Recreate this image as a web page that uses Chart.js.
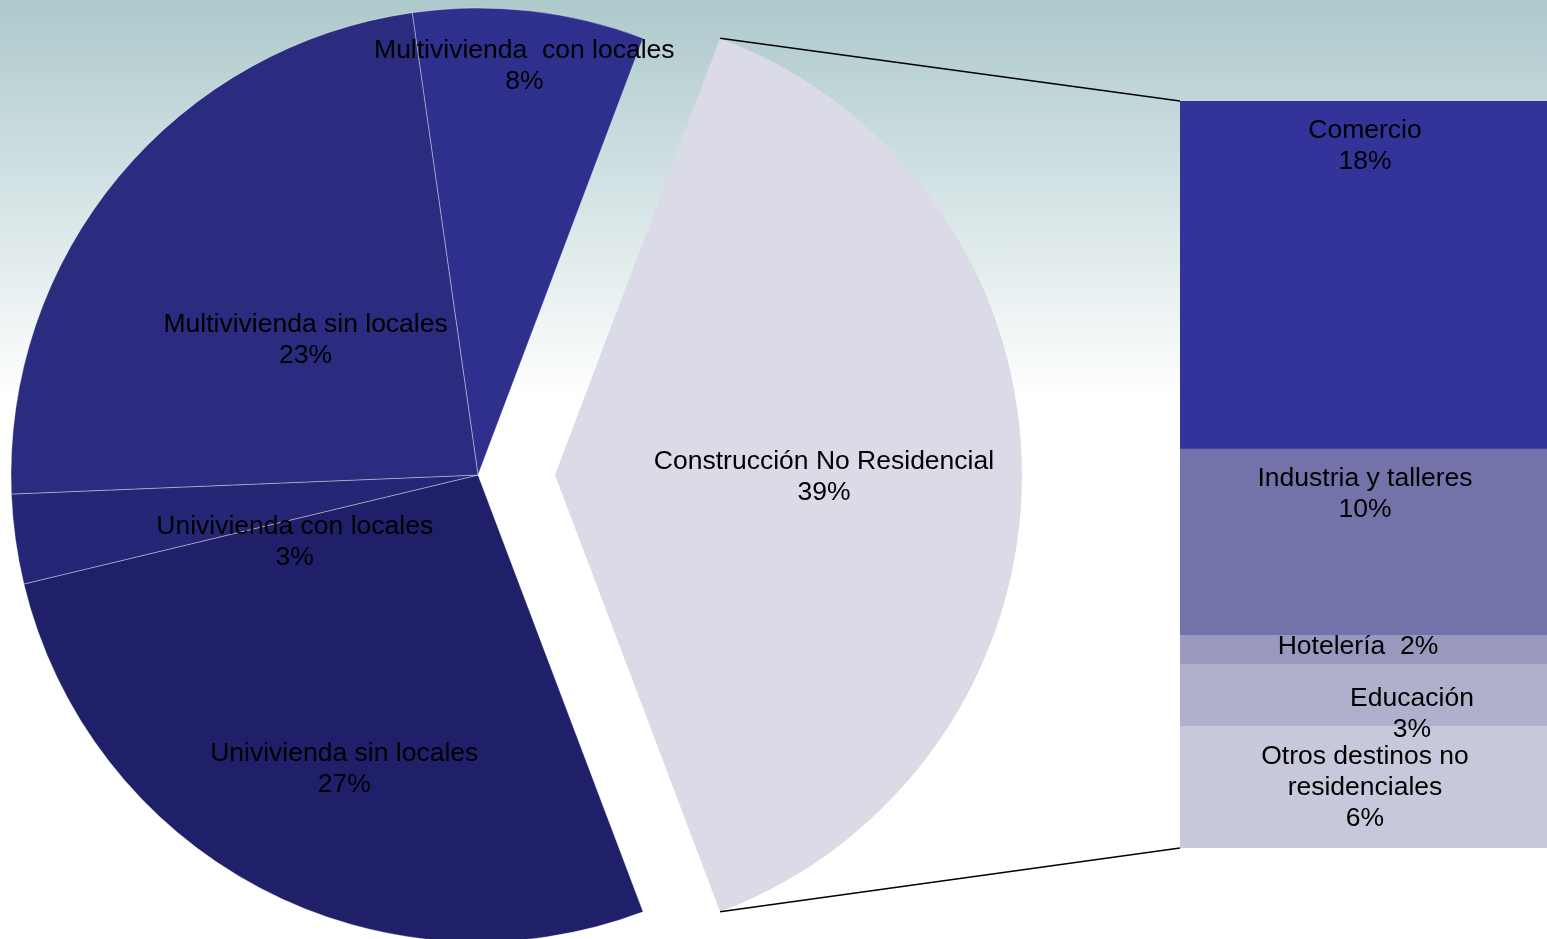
<!DOCTYPE html>
<html>
<head>
<meta charset="utf-8">
<script src="https://cdn.jsdelivr.net/npm/chart.js@4"></script>
<style>
  html, body { margin: 0; padding: 0; }
  body {
    width: 1547px; height: 939px; overflow: hidden; position: relative;
    background: #fff linear-gradient(to bottom, #adc9cc 0px, #ffffff 400px) no-repeat;
  }
  canvas { position: absolute; top: 0; }
</style>
</head>
<body>
<canvas id="pieMain" width="1547" height="939" style="left:0"></canvas>
<canvas id="pieOut" width="1547" height="939" style="left:0"></canvas>
<canvas id="barStack" width="370" height="939" style="left:1180px"></canvas>
<script>
// datos del grafico principal (porcentaje del total)
const pieLabels = ['Multivivienda  con locales', 'Construcción No Residencial', 'Univivienda sin locales', 'Univivienda con locales', 'Multivivienda sin locales'];
const pieValues = [8.0, 38.5, 27.0, 3.1, 23.4];
const pieColors = ['#2f2f8d', '#dbdbe7', '#20206a', '#262676', '#2b2b80'];

// desglose de la construccion no residencial
const barLabels = ['Comercio', 'Industria y talleres', 'Hotelería', 'Educación', ['Otros destinos no', 'residenciales']];
const barValues = [17.9, 9.6, 1.5, 3.2, 6.3];
const barColors = ['#333399', '#7373aa', '#9999c0', '#b0b0cd', '#c8c8dc'];

const outIndex = 1; // porcion separada

// posicion de etiquetas (no son datos)
const pieLabelPos = [
    { r: 0.884, dx: 1, dy: 1.5 },
    { r: 0.576, dx: 0, dy: 2 },
    { r: 0.69, dx: 17, dy: 9 },
    { r: 0.42, dx: 11, dy: 40 },
    { r: 0.472, dx: -3, dy: 6 }
];
const barLabelPos = [
    { dx: 0, dy: 30 },
    { dx: 0, dy: 30.5 },
    { dx: -7, dy: 12, inline: true },
    { dx: 47, dy: 35 },
    { dx: 0, dy: 31 }
];

const FONT = '26.5px "Liberation Sans", Arial, sans-serif';
const LINE_H = 31;

function pct(v) { return Math.round(v) + '%'; }

function drawLines(ctx, lines, x, yFirst) {
    ctx.save();
    ctx.font = FONT;
    ctx.fillStyle = '#000';
    ctx.textAlign = 'center';
    ctx.textBaseline = 'middle';
    lines.forEach((t, k) => ctx.fillText(t, x, yFirst + k * LINE_H));
    ctx.restore();
}

const sliceLabels = {
    id: 'sliceLabels',
    afterDatasetsDraw(chart, args, opts) {
        const meta = chart.getDatasetMeta(0);
        opts.show.forEach(i => {
            const arc = meta.data[i];
            const p = pieLabelPos[i];
            const mid = (arc.startAngle + arc.endAngle) / 2;
            const r = arc.outerRadius * p.r;
            const x = arc.x + Math.cos(mid) * r + p.dx;
            const y = arc.y + Math.sin(mid) * r + p.dy;
            const lines = [pieLabels[i], pct(pieValues[i])];
            drawLines(chart.ctx, lines, x, y - LINE_H * (lines.length - 1) / 2);
        });
    }
};

const stackLabels = {
    id: 'stackLabels',
    afterDatasetsDraw(chart) {
        chart.data.datasets.forEach((ds, i) => {
            const el = chart.getDatasetMeta(i).data[0];
            const top = Math.min(el.y, el.base);
            const p = barLabelPos[i];
            let lines;
            if (p.inline) {
                lines = [barLabels[i] + '  ' + pct(barValues[i])];
            } else {
                lines = [].concat(barLabels[i], pct(barValues[i]));
            }
            drawLines(chart.ctx, lines, el.x + p.dx, top + p.dy);
        });
    }
};

// barra apilada
const barTotal = barValues.reduce((a, b) => a + b, 0);
const barChart = new Chart(document.getElementById('barStack'), {
    type: 'bar',
    data: {
        labels: [''],
        datasets: barValues.map((v, i) => ({
            label: [].concat(barLabels[i]).join(' '),
            data: [v],
            backgroundColor: barColors[i],
            borderWidth: 0,
            barPercentage: 1,
            categoryPercentage: 1
        }))
    },
    options: {
        responsive: false,
        animation: false,
        layout: { padding: { top: 101, bottom: 91, left: 0, right: 0 } },
        scales: {
            x: { display: false, stacked: true },
            y: { display: false, stacked: true, reverse: true, min: 0, max: barTotal }
        },
        plugins: { legend: { display: false }, tooltip: { enabled: false } }
    },
    plugins: [stackLabels]
});

// torta principal (sin la porcion separada)
new Chart(document.getElementById('pieMain'), {
    type: 'pie',
    data: {
        labels: pieLabels,
        datasets: [{
            data: pieValues,
            backgroundColor: pieColors.map((c, i) => i === outIndex ? 'rgba(0,0,0,0)' : c),
            borderColor: 'rgba(255,255,255,0.35)',
            borderWidth: pieValues.map((v, i) => i === outIndex ? 0 : 1)
        }]
    },
    options: {
        responsive: false,
        animation: false,
        radius: 467,
        rotation: -8.1,
        layout: { padding: { top: 11, right: 591, left: 0, bottom: 0 } },
        plugins: {
            legend: { display: false },
            tooltip: { enabled: false },
            sliceLabels: { show: [0, 2, 3, 4] }
        }
    },
    plugins: [sliceLabels]
});

// porcion separada + lineas hacia la barra
const connectors = {
    id: 'connectors',
    afterDatasetsDraw(chart) {
        const arc = chart.getDatasetMeta(0).data[outIndex];
        const R = arc.outerRadius;
        const a = { x: arc.x + Math.cos(arc.startAngle) * R, y: arc.y + Math.sin(arc.startAngle) * R };
        const b = { x: arc.x + Math.cos(arc.endAngle) * R, y: arc.y + Math.sin(arc.endAngle) * R };
        const first = barChart.getDatasetMeta(0).data[0];
        const last = barChart.getDatasetMeta(barValues.length - 1).data[0];
        const left = barChart.canvas.offsetLeft + first.x - first.width / 2;
        const top = Math.min(first.y, first.base);
        const bottom = Math.max(last.y, last.base);
        const ctx = chart.ctx;
        ctx.save();
        ctx.strokeStyle = '#000';
        ctx.lineWidth = 1.5;
        ctx.beginPath();
        ctx.moveTo(a.x, a.y); ctx.lineTo(left, top);
        ctx.moveTo(b.x, b.y); ctx.lineTo(left, bottom);
        ctx.stroke();
        ctx.restore();
    }
};

new Chart(document.getElementById('pieOut'), {
    type: 'pie',
    data: {
        labels: pieLabels,
        datasets: [{
            data: pieValues,
            backgroundColor: pieColors.map((c, i) => i === outIndex ? c : 'rgba(0,0,0,0)'),
            borderWidth: 0
        }]
    },
    options: {
        responsive: false,
        animation: false,
        radius: 467,
        rotation: -8.1,
        layout: { padding: { top: 11, right: 591, left: 154, bottom: 0 } },
        plugins: {
            legend: { display: false },
            tooltip: { enabled: false },
            sliceLabels: { show: [outIndex] }
        }
    },
    plugins: [sliceLabels, connectors]
});
</script>
</body>
</html>
